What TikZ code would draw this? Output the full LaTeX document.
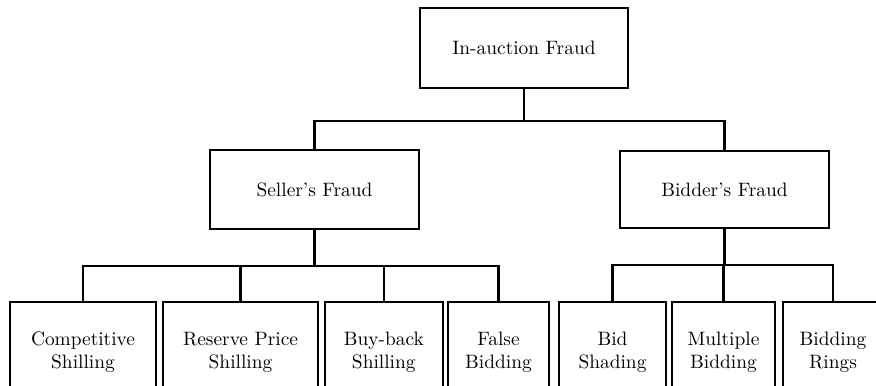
\documentclass[tikz,border=0pt]{standalone}
\usepackage{tikz}

\tikzset{
  fraudbox/.style={draw, line width=1.1pt, align=center, inner sep=0pt},
  toplevel/.style={fraudbox, minimum width=107.5pt, minimum height=41pt},
  leafbox/.style={fraudbox, minimum height=51.5pt},
  treeline/.style={line width=1.1pt}
}

\begin{document}
\begin{tikzpicture}[x=0.5155pt, y=-0.5155pt]
\useasboundingbox (0,0) rectangle (876,385);
\clip (0,0) rectangle (876,385);
% top levels
\node[toplevel] (inauction) at (524,48) {In-auction Fraud};
\node[toplevel] (seller) at (314.5,189.5) {Seller's Fraud};
\node[toplevel, minimum height=40pt] (bidder) at (724.5,189.5) {Bidder's Fraud};
% leaves
\node[leafbox, minimum width=75.6pt] (competitive) at (83,352) {Competitive\\Shilling};
\node[leafbox, minimum width=79.9pt] (reserve) at (240.5,352) {Reserve Price\\Shilling};
\node[leafbox, minimum width=61pt] (buyback) at (383.8,352) {Buy-back\\Shilling};
\node[leafbox, minimum width=52.3pt] (falsebid) at (498.5,352) {False\\Bidding};
\node[leafbox, minimum width=55.4pt] (bidshading) at (612.5,352) {Bid\\Shading};
\node[leafbox, minimum width=53.4pt] (multiple) at (723.5,352) {Multiple\\Bidding};
\node[leafbox, minimum width=51.8pt] (rings) at (833,352) {Bidding\\Rings};
% connectors
\foreach \child in {seller,bidder}
  \draw[treeline] (inauction.south) -- ++(0,32) -| (\child.north);
\foreach \child in {competitive,reserve,buyback,falsebid}
  \draw[treeline] (seller.south) -- ++(0,36) -| (\child.north);
\foreach \child in {bidshading,multiple,rings}
  \draw[treeline] (bidder.south) -- ++(0,36) -| (\child.north);
\end{tikzpicture}
\end{document}
